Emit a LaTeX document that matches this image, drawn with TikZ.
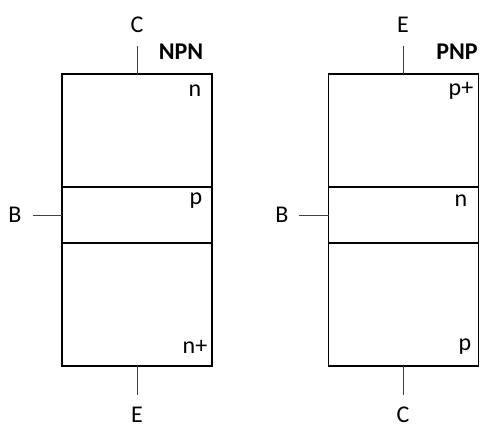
\documentclass[tikz,border=0pt]{standalone}
\usepackage{fontspec}
\setmainfont{Carlito}
\usetikzlibrary{positioning}

\tikzset{
  layer/.style={draw, line width=1.2pt, minimum width=150pt, inner sep=0pt, outer sep=0pt},
  lead/.style={draw=black!75, line width=0.8pt},
  lbl/.style={font=\fontsize{24}{29}\selectfont, inner sep=0pt},
  title/.style={lbl, font=\fontsize{24}{29}\selectfont\bfseries},
}

\begin{document}
\begin{tikzpicture}[x=1pt,y=-1pt]
    \useasboundingbox (0,0) rectangle (501,441);

    % NPN
    \node[layer, minimum height=113pt] (npnC) at (137,130.5) {};
    \node[layer, minimum height=56pt, below=0pt of npnC] (npnB) {};
    \node[layer, minimum height=123pt, below=0pt of npnB] (npnE) {};
    \node[lbl] (npnCl) at (137,25) {C};
    \node[lbl] (npnBl) at (15,215) {B};
    \node[lbl] (npnEl) at (137,415) {E};
    \node[title] (npnT) at (181,52) {NPN};
    \node[lbl] (npnCd) at (195,91) {n};
    \node[lbl] (npnBd) at (196,201) {p};
    \node[lbl] (npnEd) at (195,347) {n+};
    \coordinate (npnCt) at (137,46);
    \coordinate (npnBt) at (33,215);
    \coordinate (npnEt) at (137,395);
    \draw[lead] (npnC.north) -- (npnCt);
    \draw[lead] (npnB.west) -- (npnBt);
    \draw[lead] (npnE.south) -- (npnEt);

    % PNP
    \node[layer, minimum height=113pt] (pnpE) at (403.5,130.5) {};
    \node[layer, minimum height=56pt, below=0pt of pnpE] (pnpB) {};
    \node[layer, minimum height=123pt, below=0pt of pnpB] (pnpC) {};
    \node[lbl] (pnpEl) at (403,25) {E};
    \node[lbl] (pnpBl) at (282,215) {B};
    \node[lbl] (pnpCl) at (403,415) {C};
    \node[title] (pnpT) at (457,52) {PNP};
    \node[lbl] (pnpEd) at (461,91) {p+};
    \node[lbl] (pnpBd) at (461,201) {n};
    \node[lbl] (pnpCd) at (465,347) {p};
    \coordinate (pnpEt) at (403.5,46);
    \coordinate (pnpBt) at (299,215);
    \coordinate (pnpCt) at (403.5,395);
    \draw[lead] (pnpE.north) -- (pnpEt);
    \draw[lead] (pnpB.west) -- (pnpBt);
    \draw[lead] (pnpC.south) -- (pnpCt);
\end{tikzpicture}
\end{document}
